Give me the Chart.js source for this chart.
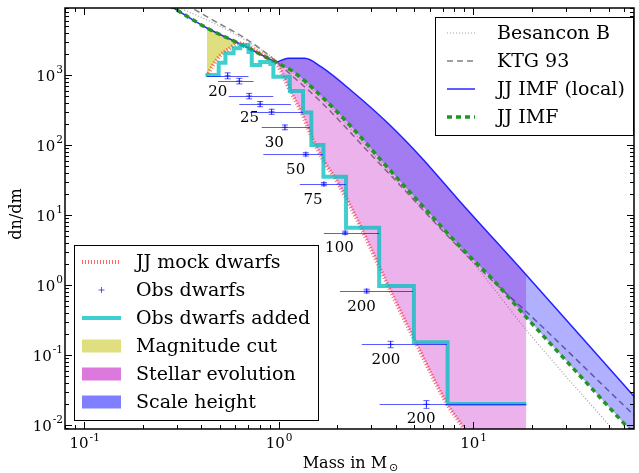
<!DOCTYPE html>
<html>
<head>
<meta charset="utf-8">
<script src="https://cdn.jsdelivr.net/npm/chart.js@4.4.1/dist/chart.umd.min.js"></script>
<style>
  html, body { margin: 0; padding: 0; background: #fff; }
  canvas { display: block; }
</style>
</head>
<body>
<canvas id="imf" width="639" height="473"></canvas>
<script>
// values: mass in solar masses, dn/dm
const besanconMass = [0.27, 0.314, 0.474, 0.674, 0.939, 1.594, 2.454, 5.36, 10.05, 18.8, 50, 68.5];
const besanconDn   = [11000, 8970, 5350, 3160, 1750, 518, 148, 13.2, 2.04, 0.228, 0.01, 0.0037];

const ktgMass = [0.3, 0.36, 0.474, 0.674, 0.886, 1.188, 1.594, 2.016, 2.97, 3.93, 7.0, 12.46, 18.8, 65.8, 70];
const ktgDn   = [12000, 8970, 5800, 3340, 1930, 946, 454, 235, 74, 32.7, 5.9, 1.18, 0.416, 0.0147, 0.0125];

const jjLocalMass = [0.25, 0.29, 0.428, 0.623, 0.918, 0.962, 1.12, 1.364, 1.652, 2.454, 3.655, 5.38, 8.43, 18.8, 63, 70];
const jjLocalDn   = [11500, 8970, 4690, 2840, 1638, 1530, 1734, 1734, 1314, 548, 204, 68, 16.4, 1.39, 0.0316, 0.0228];

const jjMass = [0.25, 0.29, 0.428, 0.623, 0.918, 1.188, 1.594, 2.454, 3.42, 5.16, 8.58, 12.46, 18.8, 28.9, 44.3, 70];
const jjDn   = [11500, 8970, 4690, 2840, 1638, 1115, 553, 164, 57.7, 16.4, 3.53, 1.25, 0.346, 0.094, 0.026, 0.0065];

const mockMass = [0.428, 0.464, 0.504, 0.554, 0.623, 0.918, 0.962, 1.032, 1.12, 1.306, 1.503, 1.73, 2.0, 2.652, 3.655, 5.06, 7.34, 8.93, 18.8];
const mockDn   = [968, 1435, 1930, 2350, 2840, 1638, 1530, 1115, 681, 296, 118, 55.3, 29.9, 6.59, 0.968, 0.152, 0.02, 0.00897, 0.0002];

// "Obs dwarfs added" histogram: left bin edges and levels, last point closes the final bin
const addedMass = [0.421, 0.492, 0.533, 0.587, 0.635, 0.700, 0.728, 0.804, 0.907, 0.940, 1.143, 1.337, 1.474, 1.701, 2.223, 3.291, 4.965, 7.40, 18.8];
const addedDn   = [1000, 1498, 2042, 2404, 2683, 2131, 1389, 1534, 1436, 946, 591, 291, 100, 35.2, 6.59, 0.968, 0.152, 0.02, 0.02];

const obsMass   = [0.547, 0.628, 0.706, 0.804, 0.921, 1.078, 1.38, 1.71, 2.2, 2.84, 3.77, 5.76];
const obsMassLo = [0.429, 0.488, 0.554, 0.628, 0.715, 0.819, 0.835, 1.286, 1.71, 2.07, 2.68, 3.31];
const obsMassHi = [0.70, 0.743, 0.939, 1.157, 1.337, 1.446, 1.69, 2.22, 3.29, 4.91, 7.34, 18.8];
const obsDn     = [977, 821, 501, 385, 299, 179, 73.6, 27.7, 5.58, 0.82, 0.142, 0.0198];
const obsDnErr  = [95, 75, 45, 33, 25, 14, 4, 1.5, 0.3, 0.05, 0.015, 0.0025];

const binLabels = ['20', '25', '30', '50', '75', '100', '200', '200', '200'];
const binLabelMass = [0.487, 0.709, 0.951, 1.224, 1.503, 2.055, 2.67, 3.565, 5.41];
const binLabelDn   = [577, 243, 107, 44, 16.4, 3.38, 0.485, 0.0848, 0.0122];

const magCutMass = 0.93;   // yellow shading stops, stellar evolution starts
const xTicks = [0.1, 1, 10];
const yTicks = [0.01, 0.1, 1, 10, 100, 1000];

const FONT = '"DejaVu Serif", "Liberation Serif", serif';
const fillYellow = 'rgba(191,191,0,0.5)';
const fillPink = 'rgba(191,0,191,0.3)';
const fillBlue = 'rgba(0,0,255,0.31)';
const obsColor = 'rgba(0,0,255,0.65)';

const styles = {
    besancon: { color: 'rgb(160,160,160)', width: 1.2, dash: [1, 2] },
    ktg: { color: 'rgb(128,128,128)', width: 1.5, dash: [6, 4] },
    local: { color: 'rgb(40,40,255)', width: 1.5, dash: [] },
    jj: { color: 'rgb(34,150,34)', width: 3.5, dash: [5, 4] },
    mock: { color: 'rgba(255,0,0,0.6)', width: 4, dash: [1, 2] },
    added: { color: 'rgba(0,191,191,0.75)', width: 4, dash: [] },
};

function pts(xs, ys) {
    return xs.map((x, i) => ({ x: x, y: ys[i] }));
}

function curve(label, xs, ys, st, extra) {
    return Object.assign({
        label: label,
        data: pts(xs, ys),
        borderColor: st.color,
        borderWidth: st.width,
        borderDash: st.dash,
        borderCapStyle: 'butt',
        pointRadius: 0,
        fill: false,
        cubicInterpolationMode: 'monotone',
    }, extra || {});
}

// yellow below the cut mass, pink above it
function evolutionFill(context) {
    const chart = context.chart;
    const area = chart.chartArea;
    if (!area || !chart.scales.x) return fillPink;
    const g = chart.ctx.createLinearGradient(area.left, 0, area.right, 0);
    let f = (chart.scales.x.getPixelForValue(magCutMass) - area.left) / area.width;
    f = Math.min(1, Math.max(0, f));
    g.addColorStop(0, fillYellow);
    g.addColorStop(f, fillYellow);
    g.addColorStop(f, fillPink);
    g.addColorStop(1, fillPink);
    return g;
}

// index 0 is painted last (on top)
const datasets = [
    {
        label: 'Obs dwarfs',
        data: pts(obsMass, obsDn),
        showLine: false,
        pointStyle: 'cross',
        pointRadius: 3,
        borderColor: obsColor,
        backgroundColor: obsColor,
        borderWidth: 1,
    },
    curve('Obs dwarfs added', addedMass, addedDn, styles.added, { stepped: true, cubicInterpolationMode: 'default' }),
    curve('JJ mock dwarfs', mockMass, mockDn, styles.mock),
    curve('JJ IMF', jjMass, jjDn, styles.jj, { fill: 4, backgroundColor: fillBlue }),
    curve('JJ IMF (local)', jjLocalMass, jjLocalDn, styles.local, { fill: 2, backgroundColor: evolutionFill }),
    curve('KTG 93', ktgMass, ktgDn, styles.ktg),
    curve('Besancon B', besanconMass, besanconDn, styles.besancon),
];

function drawPow(ctx, exp, x, y, align, big, small) {
    ctx.font = big + 'px ' + FONT;
    const wb = ctx.measureText('10').width;
    ctx.font = small + 'px ' + FONT;
    const we = ctx.measureText(exp).width;
    let x0 = x;
    if (align === 'center') x0 = x - (wb + we) / 2;
    if (align === 'right') x0 = x - (wb + we);
    ctx.textAlign = 'left';
    ctx.textBaseline = 'alphabetic';
    ctx.font = big + 'px ' + FONT;
    ctx.fillText('10', x0, y);
    ctx.font = small + 'px ' + FONT;
    ctx.fillText(exp, x0 + wb + 1, y - big * 0.5);
}

const obsBars = {
    id: 'obsBars',
    afterDatasetsDraw(chart) {
        const { ctx, chartArea: a } = chart;
        const x = chart.scales.x, y = chart.scales.y;
        ctx.save();
        ctx.beginPath();
        ctx.rect(a.left, a.top, a.width, a.height);
        ctx.clip();
        ctx.strokeStyle = obsColor;
        ctx.lineWidth = 1;
        obsMass.forEach((m, i) => {
            const py = Math.round(y.getPixelForValue(obsDn[i])) + 0.5;
            const px = x.getPixelForValue(m);
            const yt = y.getPixelForValue(obsDn[i] + obsDnErr[i]);
            const yb = y.getPixelForValue(obsDn[i] - obsDnErr[i]);
            ctx.beginPath();
            ctx.moveTo(x.getPixelForValue(obsMassLo[i]), py);
            ctx.lineTo(x.getPixelForValue(obsMassHi[i]), py);
            ctx.moveTo(px, yt); ctx.lineTo(px, yb);
            ctx.moveTo(px - 3, yt); ctx.lineTo(px + 3, yt);
            ctx.moveTo(px - 3, yb); ctx.lineTo(px + 3, yb);
            ctx.stroke();
        });
        ctx.fillStyle = '#000';
        ctx.font = '15px ' + FONT;
        ctx.textAlign = 'center';
        ctx.textBaseline = 'middle';
        binLabels.forEach((t, i) => {
            ctx.fillText(t, x.getPixelForValue(binLabelMass[i]), y.getPixelForValue(binLabelDn[i]));
        });
        ctx.restore();
    }
};

const frame = {
    id: 'frame',
    afterDraw(chart) {
        const { ctx, chartArea: a } = chart;
        const x = chart.scales.x, y = chart.scales.y;
        ctx.save();
        ctx.strokeStyle = '#000';
        ctx.lineWidth = 1;
        // inward ticks on all four sides
        for (let p = -2; p <= 2; p++) {
            for (let k = 1; k <= 9; k++) {
                const v = k * Math.pow(10, p);
                if (v < x.min || v > x.max) continue;
                const len = k === 1 ? 7 : 4;
                const px = Math.round(x.getPixelForValue(v)) + 0.5;
                ctx.beginPath();
                ctx.moveTo(px, a.bottom); ctx.lineTo(px, a.bottom - len);
                ctx.moveTo(px, a.top); ctx.lineTo(px, a.top + len);
                ctx.stroke();
            }
        }
        for (let p = -3; p <= 4; p++) {
            for (let k = 1; k <= 9; k++) {
                const v = k * Math.pow(10, p);
                if (v < y.min || v > y.max) continue;
                const len = k === 1 ? 7 : 4;
                const py = Math.round(y.getPixelForValue(v)) + 0.5;
                ctx.beginPath();
                ctx.moveTo(a.left, py); ctx.lineTo(a.left + len, py);
                ctx.moveTo(a.right, py); ctx.lineTo(a.right - len, py);
                ctx.stroke();
            }
        }
        ctx.lineWidth = 1.5;
        ctx.strokeRect(a.left, a.top, a.right - a.left, a.bottom - a.top);

        ctx.fillStyle = '#000';
        xTicks.forEach(v => {
            drawPow(ctx, String(Math.round(Math.log10(v))), x.getPixelForValue(v), 448, 'center', 15, 10.5);
        });
        yTicks.forEach(v => {
            drawPow(ctx, String(Math.round(Math.log10(v))), a.left - 3, y.getPixelForValue(v) + 5.5, 'right', 15, 10.5);
        });

        // axis titles
        ctx.font = '16px ' + FONT;
        ctx.textAlign = 'center';
        ctx.textBaseline = 'middle';
        ctx.save();
        ctx.translate(17, 214);
        ctx.rotate(-Math.PI / 2);
        ctx.fillText('dn/dm', 0, 0);
        ctx.restore();
        const t1 = 'Mass in M';
        ctx.font = '16px ' + FONT;
        const w1 = ctx.measureText(t1).width;
        ctx.font = '11px "DejaVu Sans", ' + FONT;
        const w2 = ctx.measureText('\u2299').width;
        const cx = (a.left + a.right) / 2 - (w1 + w2) / 2;
        ctx.textAlign = 'left';
        ctx.textBaseline = 'alphabetic';
        ctx.font = '16px ' + FONT;
        ctx.fillText(t1, cx, 468);
        ctx.font = '11px "DejaVu Sans", ' + FONT;
        ctx.fillText('\u2299', cx + w1 + 2, 471);

        drawLegend(ctx, 435, 17, 198, 118, 33, 28, [
            { text: 'Besancon B', line: styles.besancon },
            { text: 'KTG 93', line: styles.ktg },
            { text: 'JJ IMF (local)', line: styles.local },
            { text: 'JJ IMF', line: styles.jj },
        ], 447, 475, 497);
        drawLegend(ctx, 74, 245, 244, 175, 262, 28, [
            { text: 'JJ mock dwarfs', line: styles.mock },
            { text: 'Obs dwarfs', marker: obsColor },
            { text: 'Obs dwarfs added', line: styles.added },
            { text: 'Magnitude cut', patch: 'rgba(191,191,0,0.5)' },
            { text: 'Stellar evolution', patch: 'rgba(191,0,191,0.53)' },
            { text: 'Scale height', patch: 'rgba(0,0,255,0.5)' },
        ], 82, 121, 136);
        ctx.restore();
    }
};

function drawLegend(ctx, bx, by, bw, bh, firstY, step, items, sx0, sx1, tx) {
    ctx.save();
    ctx.fillStyle = '#fff';
    ctx.fillRect(bx, by, bw, bh);
    ctx.strokeStyle = '#000';
    ctx.lineWidth = 1;
    ctx.strokeRect(bx + 0.5, by + 0.5, bw, bh);
    items.forEach((it, i) => {
        const cy = firstY + i * step;
        if (it.line) {
            ctx.strokeStyle = it.line.color;
            ctx.lineWidth = it.line.width;
            ctx.setLineDash(it.line.dash);
            ctx.lineCap = 'butt';
            ctx.beginPath();
            ctx.moveTo(sx0, cy);
            ctx.lineTo(sx1, cy);
            ctx.stroke();
            ctx.setLineDash([]);
        } else if (it.patch) {
            ctx.fillStyle = it.patch;
            ctx.fillRect(sx0, cy - 6.5, sx1 - sx0, 13);
        } else if (it.marker) {
            const mx = (sx0 + sx1) / 2;
            ctx.strokeStyle = it.marker;
            ctx.lineWidth = 1;
            ctx.beginPath();
            ctx.moveTo(mx - 3, cy); ctx.lineTo(mx + 3, cy);
            ctx.moveTo(mx, cy - 3); ctx.lineTo(mx, cy + 3);
            ctx.stroke();
        }
        ctx.fillStyle = '#000';
        ctx.font = '19px ' + FONT;
        ctx.textAlign = 'left';
        ctx.textBaseline = 'middle';
        ctx.fillText(it.text, tx, cy + 1);
    });
    ctx.restore();
}

new Chart(document.getElementById('imf'), {
    type: 'line',
    data: { datasets: datasets },
    options: {
        responsive: false,
        animation: false,
        layout: { padding: { left: 65, top: 8, right: 0, bottom: 44 } },
        plugins: {
            legend: { display: false },
            tooltip: { enabled: false },
        },
        scales: {
            x: { type: 'logarithmic', min: 0.0797, max: 67.3, display: false },
            y: { type: 'logarithmic', min: 0.00877, max: 9060, display: false },
        },
    },
    plugins: [obsBars, frame],
});
</script>
</body>
</html>
